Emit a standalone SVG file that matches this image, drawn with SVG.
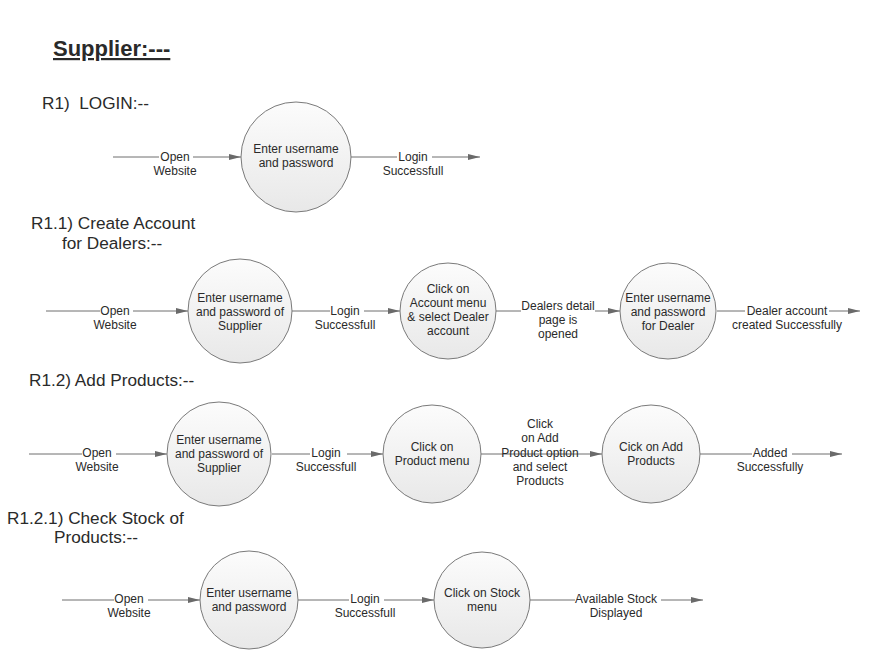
<svg xmlns="http://www.w3.org/2000/svg" width="887" height="660" viewBox="0 0 887 660">
<style>
  text { font-family: "Liberation Sans", Arial, sans-serif; fill: #2a2a2a; }
  .title { font-size: 22px; font-weight: bold; text-decoration: underline; }
  .head { font-size: 17.2px; white-space: pre; }
  .lbl, .nt { font-size: 12px; text-anchor: middle; }
  .node circle { fill: url(#g); stroke: #7a7a7a; stroke-width: 1; }
  .conn path { fill: none; stroke: #6e6e6e; stroke-width: 1; marker-end: url(#arr); }
</style>
<defs>
  <linearGradient id="g" x1="0" y1="0" x2="0" y2="1">
    <stop offset="0" stop-color="#fcfcfc"/>
    <stop offset="1" stop-color="#e8e8e8"/>
  </linearGradient>
  <marker id="arr" markerUnits="userSpaceOnUse" markerWidth="12" markerHeight="6" refX="12" refY="3" orient="auto">
    <path d="M0,0 L12,3 L0,6 z" fill="#6a6a6a"/>
  </marker>
</defs>
<rect width="887" height="660" fill="#ffffff"/>

<text class="title" x="53" y="56">Supplier:---</text>
<text class="head" x="42" y="109" xml:space="preserve">R1)  LOGIN:--</text>
<text class="head" x="31" y="229">R1.1) Create Account</text>
<text class="head" x="62" y="249">for Dealers:--</text>
<text class="head" x="29" y="386">R1.2) Add Products:--</text>
<text class="head" x="7" y="524">R1.2.1) Check Stock of</text>
<text class="head" x="54" y="543">Products:--</text>

<g class="conn" id="connectors">
  <path d="M113,157 H159 M193,157 H241"/>
  <path d="M351,157 H397 M432,157 H480"/>
  <path d="M46,311 H100 M133,311 H188"/>
  <path d="M292,311 H330 M364,311 H400"/>
  <path d="M496,311 H521 M595,311 H620"/>
  <path d="M717,311 H745 M829,311 H860"/>
  <path d="M29,454 H82 M116,454 H167"/>
  <path d="M272,454 H310 M347,454 H383"/>
  <path d="M481,454 H602"/>
  <path d="M700,454 H752 M792,454 H842"/>
  <path d="M62,600 H114 M148,600 H200"/>
  <path d="M298,600 H349 M384,600 H434"/>
  <path d="M530,600 H575 M661,600 H703"/>
</g>

<g id="labels">
  <text class="lbl" x="175" y="161">Open</text>
  <text class="lbl" x="175" y="175">Website</text>
  <text class="lbl" x="413" y="161">Login</text>
  <text class="lbl" x="413" y="175">Successfull</text>

  <text class="lbl" x="115" y="315">Open</text>
  <text class="lbl" x="115" y="329">Website</text>
  <text class="lbl" x="345" y="315">Login</text>
  <text class="lbl" x="345" y="329">Successfull</text>
  <text class="lbl" x="558" y="310">Dealers detail</text>
  <text class="lbl" x="558" y="324">page is</text>
  <text class="lbl" x="558" y="338">opened</text>
  <text class="lbl" x="787" y="315">Dealer account</text>
  <text class="lbl" x="787" y="329">created Successfully</text>

  <text class="lbl" x="97" y="457">Open</text>
  <text class="lbl" x="97" y="471">Website</text>
  <text class="lbl" x="326" y="457">Login</text>
  <text class="lbl" x="326" y="471">Successfull</text>
  <text class="lbl" x="540" y="428">Click</text>
  <text class="lbl" x="540" y="442">on Add</text>
  <text class="lbl" x="540" y="457">Product option</text>
  <text class="lbl" x="540" y="471">and select</text>
  <text class="lbl" x="540" y="485">Products</text>
  <text class="lbl" x="770" y="457">Added</text>
  <text class="lbl" x="770" y="471">Successfully</text>

  <text class="lbl" x="129" y="603">Open</text>
  <text class="lbl" x="129" y="617">Website</text>
  <text class="lbl" x="365" y="603">Login</text>
  <text class="lbl" x="365" y="617">Successfull</text>
  <text class="lbl" x="616" y="603">Available Stock</text>
  <text class="lbl" x="616" y="617">Displayed</text>
</g>

<g class="node" id="n1">
  <circle cx="296" cy="157" r="55"/>
  <text class="nt" x="296" y="153">Enter username</text>
  <text class="nt" x="296" y="167">and password</text>
</g>

<g class="node" id="n2">
  <circle cx="240" cy="311" r="52"/>
  <text class="nt" x="240" y="302">Enter username</text>
  <text class="nt" x="240" y="316">and password of</text>
  <text class="nt" x="240" y="330">Supplier</text>
</g>
<g class="node" id="n3">
  <circle cx="448" cy="311" r="48"/>
  <text class="nt" x="448" y="293">Click on</text>
  <text class="nt" x="448" y="307">Account menu</text>
  <text class="nt" x="448" y="321">&amp; select Dealer</text>
  <text class="nt" x="448" y="335">account</text>
</g>
<g class="node" id="n4">
  <circle cx="668" cy="311" r="48"/>
  <text class="nt" x="668" y="302">Enter username</text>
  <text class="nt" x="668" y="316">and password</text>
  <text class="nt" x="668" y="330">for Dealer</text>
</g>

<g class="node" id="n5">
  <circle cx="219" cy="454" r="52"/>
  <text class="nt" x="219" y="444">Enter username</text>
  <text class="nt" x="219" y="458">and password of</text>
  <text class="nt" x="219" y="472">Supplier</text>
</g>
<g class="node" id="n6">
  <circle cx="432" cy="454" r="49"/>
  <text class="nt" x="432" y="451">Click on</text>
  <text class="nt" x="432" y="465">Product menu</text>
</g>
<g class="node" id="n7">
  <circle cx="651" cy="454" r="49"/>
  <text class="nt" x="651" y="451">Cick on Add</text>
  <text class="nt" x="651" y="465">Products</text>
</g>

<g class="node" id="n8">
  <circle cx="249" cy="600" r="49"/>
  <text class="nt" x="249" y="597">Enter username</text>
  <text class="nt" x="249" y="611">and password</text>
</g>
<g class="node" id="n9">
  <circle cx="482" cy="600" r="48"/>
  <text class="nt" x="482" y="597">Click on Stock</text>
  <text class="nt" x="482" y="611">menu</text>
</g>
</svg>
